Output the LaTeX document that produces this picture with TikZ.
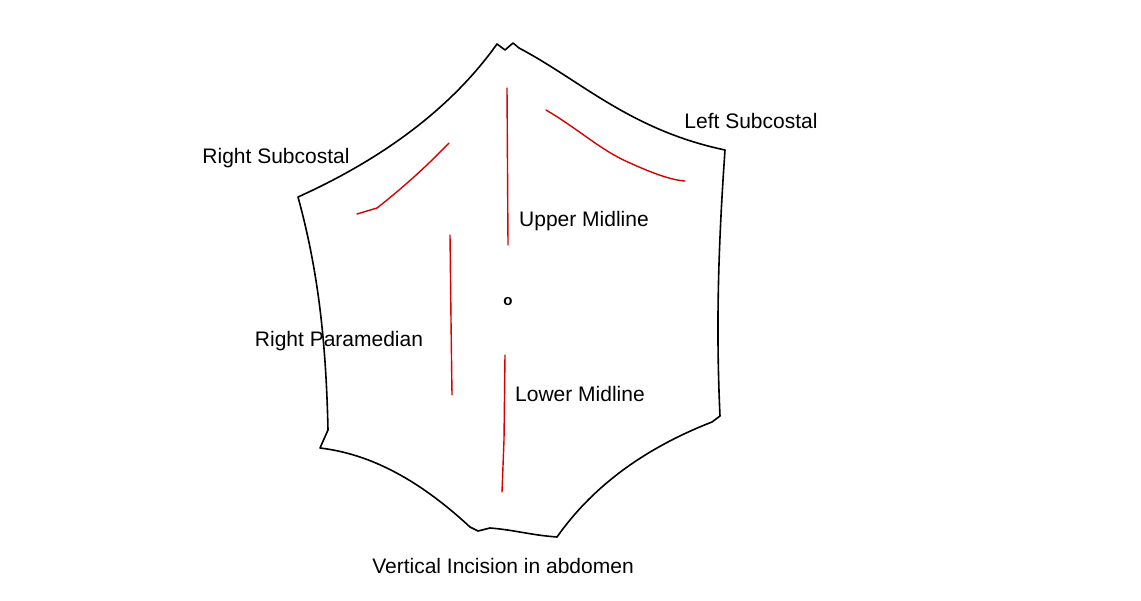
\documentclass[tikz,border=0pt]{standalone}
\usepackage{fontspec}
\setmainfont{Liberation Sans}
\begin{document}
\begin{tikzpicture}[x=1pt,y=-1pt,
  outline/.style={black,line width=1.6pt,line join=round},
  cut/.style={red!85!black,line width=1.4pt,line cap=round},
  lbl/.style={font=\fontsize{21}{24}\selectfont,inner sep=0pt}]
\useasboundingbox (0,0) rectangle (1141,600);
\draw[outline] (497,44) -- (505,50) -- (513,43) -- (519,48)
  .. controls (580,80) and (630,130) .. (725,150)
  .. controls (718,250) and (716,330) .. (720,416)
  -- (712,422)
  .. controls (640,450) and (590,490) .. (557,537)
  .. controls (530,535) and (515,530) .. (490,528)
  -- (478,531) -- (470,527)
  .. controls (430,490) and (380,455) .. (320,448)
  -- (328,430)
  .. controls (326,340) and (318,270) .. (298,197)
  .. controls (380,160) and (450,110) .. (497,44) -- cycle;
\draw[cut] (507,88) -- (508,245);
\draw[cut] (505,355) -- (504,440) -- (502,492);
\draw[cut] (450,235) -- (451,320) -- (452,395);
\draw[cut] (357,214) -- (377,208) .. controls (400,190) and (425,168) .. (449,143);
\draw[cut] (546,110) .. controls (580,130) and (600,150) .. (630,163) .. controls (650,172) and (670,180) .. (685,181);
\node[lbl] (rs) at (276,158) {Right Subcostal};
\node[lbl] (ls) at (751,121) {Left Subcostal};
\node[lbl] (um) at (584,221) {Upper Midline};
\node[lbl] (rp) at (339,341) {Right Paramedian};
\node[lbl] (lm) at (580,394) {Lower Midline};
\node[lbl] (vi) at (503,566) {Vertical Incision in abdomen};
\node[lbl,font=\fontsize{15}{16}\selectfont\bfseries] (o) at (508,302) {o};
\end{tikzpicture}
\end{document}
